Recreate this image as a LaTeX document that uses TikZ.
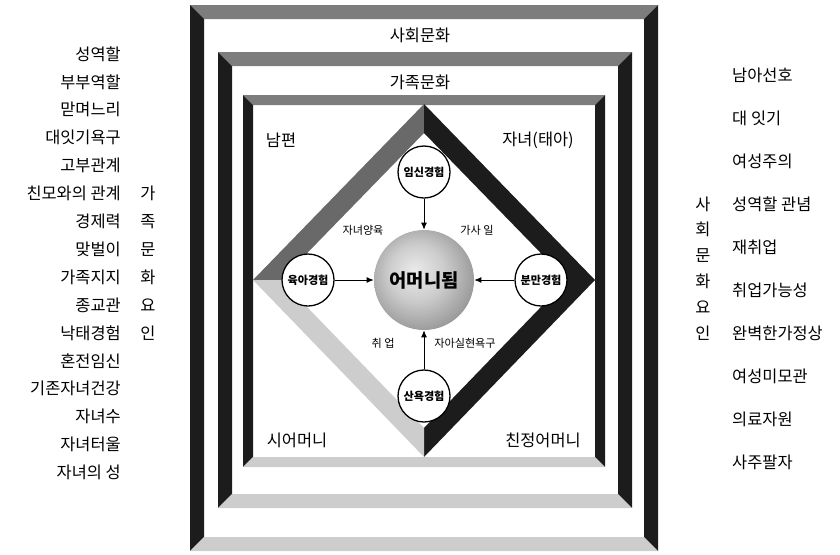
\documentclass[tikz,border=0pt]{standalone}
\usepackage{fontspec}
\setmainfont{Noto Sans CJK KR}
\usepackage{tikz}
\usetikzlibrary{arrows.meta,positioning}
\definecolor{bevtop}{RGB}{125,125,125}
\definecolor{bevside}{RGB}{28,28,28}
\definecolor{bevbot}{RGB}{205,205,205}
\definecolor{dimgrey}{RGB}{105,105,105}
\pgfdeclareradialshading{orb}{\pgfpoint{-5bp}{5bp}}{color(0bp)=(black!8); color(14bp)=(black!20); color(32bp)=(black!45); color(44bp)=(black!62); color(55bp)=(black!55)}

\begin{document}
\begin{tikzpicture}[x=0.03cm,y=-0.03cm,
    lbl/.style={font=\fontsize{14}{16}\selectfont,inner sep=0pt},
    small/.style={font=\fontsize{9.5}{11}\selectfont,inner sep=0pt},
    expc/.style={circle,draw,line width=1.1pt,fill=white,minimum size=1.56cm,
      inner sep=0pt,font=\fontsize{9.5}{11}\selectfont\bfseries},
    arr/.style={-{Latex[length=6pt,width=5pt]},line width=0.8pt}]
  \useasboundingbox (0,0) rectangle (840,554);
  % three bevelled frames
  \foreach \xa/\ya/\xb/\yb/\w in {190/5/658/551/14,218/52/632/508/14,243/95/605/467/10} {
    \fill[bevtop] (\xa,\ya) -- (\xb,\ya) -- (\xb-\w,\ya+\w) -- (\xa+\w,\ya+\w) -- cycle;
    \fill[bevside] (\xa,\ya) -- (\xa+\w,\ya+\w) -- (\xa+\w,\yb-\w) -- (\xa,\yb) -- cycle;
    \fill[bevside] (\xb,\ya) -- (\xb-\w,\ya+\w) -- (\xb-\w,\yb-\w) -- (\xb,\yb) -- cycle;
    \fill[bevbot] (\xa,\yb) -- (\xb,\yb) -- (\xb-\w,\yb-\w) -- (\xa+\w,\yb-\w) -- cycle;
  }
  % diamond
  \fill[dimgrey] (253,280) -- (424,104) -- (424,133) -- (281,280) -- cycle;
  \fill[bevside] (424,104) -- (595,280) -- (567,280) -- (424,133) -- cycle;
  \fill[bevside] (595,280) -- (424,457) -- (424,428) -- (567,280) -- cycle;
  \fill[bevbot] (424,457) -- (253,280) -- (281,280) -- (424,428) -- cycle;

  \node[circle,shading=orb,minimum size=3cm,inner sep=0pt,
    font=\fontsize{16}{18}\selectfont\bfseries] (mother) at (424,280) {어머니됨};
  \node[expc] (preg) at (424,172) {임신경험};
  \node[expc] (rear) at (308,280) {육아경험};
  \node[expc] (birth) at (541,280) {분만경험};
  \node[expc] (postp) at (424,396) {산욕경험};
  \draw[arr] (preg) -- (mother);
  \draw[arr] (rear) -- (mother);
  \draw[arr] (birth) -- (mother);
  \draw[arr] (postp) -- (mother);

  \node[small] (care) at (363,230) {자녀양육};
  \node[small] (house) at (477,230) {가사 일};
  \node[small] (job) at (383,343) {취 업};
  \node[small] (self) at (465,343) {자아실현욕구};

  \node[lbl] (soc) at (420,35) {사회문화};
  \node[lbl] (fam) at (420,82) {가족문화};
  \node[lbl] (husb) at (281,140) {남편};
  \node[lbl] (child) at (538,140) {자녀(태아)};
  \node[lbl] (mil) at (297,440) {시어머니};
  \node[lbl] (mom) at (543,440) {친정어머니};

  % factor lists
  \foreach \t [count=\i from 0] in {성역할,부부역할,맏며느리,대잇기욕구,고부관계,친모와의 관계,경제력,맞벌이,
      가족지지,종교관,낙태경험,혼전임신,기존자녀건강,자녀수,자녀터울,자녀의 성}
    \node[lbl,anchor=east] (fl\i) at (121,54+27.9*\i) {\t};
  \foreach \c [count=\i from 5] in {가,족,문,화,요,인}
    \node[lbl] (fv\i) at (148,54+27.9*\i) {\c};
  \foreach \t [count=\i from 0] in {남아선호,대 잇기,여성주의,성역할 관념,재취업,취업가능성,
      완벽한가정상,여성미모관,의료자원,사주팔자}
    \node[lbl,anchor=west] (sl\i) at (732,75+43*\i) {\t};
  \foreach \c [count=\i from 0] in {사,회,문,화,요,인}
    \node[lbl] (sv\i) at (703,204+25.8*\i) {\c};
\end{tikzpicture}
\end{document}
